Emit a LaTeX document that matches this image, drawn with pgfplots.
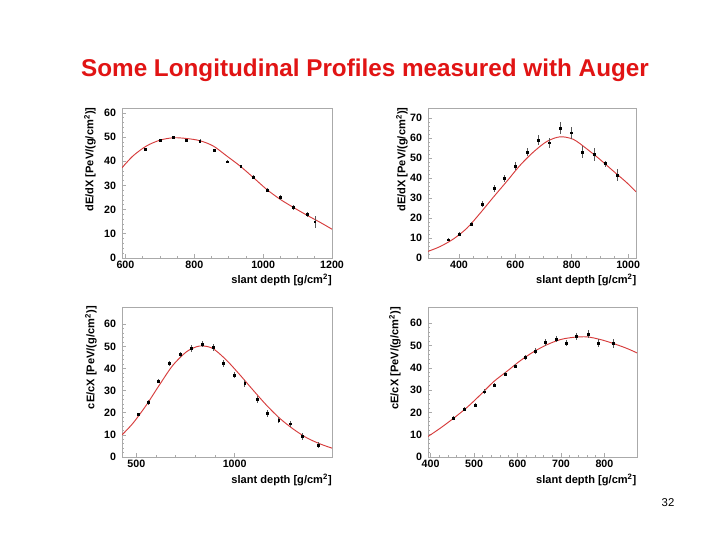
\documentclass[border=0pt]{standalone}
\usepackage{fontspec}
\setmainfont{Liberation Sans}
\usepackage{pgfplots}
\pgfplotsset{compat=1.18}
\definecolor{cTitle}{RGB}{225,20,20}
\definecolor{cFit}{RGB}{215,60,60}
\definecolor{cFrame}{RGB}{170,170,170}
\newcommand{\tickfont}{\bfseries\fontsize{8}{9}\selectfont}
\newcommand{\labfont}{\bfseries\fontsize{8.3}{9}\selectfont}

\pgfplotsset{
  root/.style={
    scale only axis,
    anchor=south west,
    axis line style={cFrame, line width=0.6pt},
    every tick/.style={cFrame, line width=0.5pt},
    tick pos=left, tick align=inside,
    major tick length=3pt, minor tick length=1.6pt,
    tick label style={font=\tickfont},
    xticklabel style={yshift=1pt},
    yticklabel style={xshift=-1pt},
    /pgf/number format/assume math mode=true,
    /pgf/number format/set thousands separator={},
    clip=true,
  },
  pts/.style={black, only marks, mark=square*, mark size=0.7pt,
    error bars/.cd, y dir=both, y explicit,
    error bar style={gray!70!black, line width=0.4pt}, error mark=none},
  fit/.style={cFit, line width=0.7pt, smooth, no marks},
}

\begin{document}
\begin{tikzpicture}
\useasboundingbox (0,0) rectangle (540pt,405pt);
\fill[white] (0,0) rectangle (540pt,405pt);

\node[text=cTitle, font=\bfseries\fontsize{18.2}{20}\selectfont] at (273.75pt,352.5pt)
  {Some Longitudinal Profiles measured with Auger};

% top left
\begin{axis}[root, at={(91.5pt,211.5pt)}, width=157.5pt, height=112.5pt,
  xmin=590, xmax=1200, ymin=0, ymax=62,
  xtick={600,800,1000,1200}, ytick={0,10,...,60},
  minor x tick num=3, minor y tick num=4]
\addplot[fit] coordinates {(590,37.3) (622,42.2) (661,46.3) (700,48.7) (739,49.7) (777,49.4) (816,48.5) (855,46.3) (894,42.2) (933,38.0) (972,33.2) (1010,28.4) (1049,24.3) (1088,20.9) (1127,17.7) (1166,14.7) (1200,11.9)};
\addplot[pts] coordinates {(658,44.9) +- (0,0.6) (700,48.6) +- (0,0.6) (740,49.8) +- (0,0.7) (777,48.7) +- (0,0.6) (816,48.3) +- (0,0.7) (857,44.5) +- (0,0.7) (896,39.8) +- (0,0.7) (935,37.8) +- (0,0.8) (972,33.5) +- (0,0.8) (1012,28.1) +- (0,0.9) (1050,25.0) +- (0,1.0) (1088,20.9) +- (0,1.0) (1127,18.0) +- (0,1.2) (1150,15.0) +- (0,2.5)};
\end{axis}

% top right
\begin{axis}[root, at={(321pt,211.5pt)}, width=156pt, height=112.5pt,
  xmin=290, xmax=1028, ymin=0, ymax=75,
  xtick={400,600,800,1000}, ytick={0,10,...,70},
  minor x tick num=3, minor y tick num=4]
\addplot[fit] coordinates {(290,3.3) (334,5.8) (381,9.6) (428,14.9) (475,22.4) (523,30.6) (570,38.4) (617,46.4) (664,53.0) (712,58.3) (759,60.6) (806,59.3) (853,54.6) (900,49.3) (948,43.4) (995,37.7) (1028,33.1)};
\addplot[pts] coordinates {(363,9.1) +- (0,0.8) (401,11.9) +- (0,1.0) (442,17.0) +- (0,1.2) (484,26.8) +- (0,1.5) (525,34.8) +- (0,1.8) (562,39.7) +- (0,1.8) (599,45.9) +- (0,2.0) (641,53.0) +- (0,2.2) (680,58.8) +- (0,2.5) (720,57.6) +- (0,2.5) (759,64.9) +- (0,3.0) (798,62.6) +- (0,3.0) (838,53.0) +- (0,3.0) (880,51.7) +- (0,3.2) (919,47.2) +- (0,1.5) (962,41.4) +- (0,3.0)};
\end{axis}

% bottom left
\begin{axis}[root, at={(91.5pt,62.25pt)}, width=157.5pt, height=112.5pt,
  xmin=427, xmax=1495, ymin=0, ymax=67.8,
  xtick={500,1000}, ytick={0,10,...,60},
  minor x tick num=4, minor y tick num=4]
\addplot[fit] coordinates {(427,10.0) (483,15.3) (551,23.5) (619,32.8) (686,41.5) (754,47.5) (805,49.8) (839,50.2) (890,49.0) (958,43.8) (1025,37.3) (1093,30.3) (1161,23.5) (1229,17.5) (1297,12.7) (1364,8.8) (1432,6.0) (1495,4.0)};
\addplot[pts] coordinates {(508,19.3) +- (0,0.8) (559,24.7) +- (0,1.0) (613,34.3) +- (0,1.0) (669,42.3) +- (0,1.2) (725,46.3) +- (0,1.2) (780,49.0) +- (0,1.5) (834,51.0) +- (0,1.5) (890,49.5) +- (0,1.5) (941,42.3) +- (0,1.5) (997,37.0) +- (0,1.5) (1051,33.3) +- (0,1.5) (1115,26.1) +- (0,1.5) (1164,19.8) +- (0,1.5) (1224,16.8) +- (0,1.5) (1283,15.0) +- (0,1.5) (1343,9.3) +- (0,1.5) (1424,5.5) +- (0,1.3)};
\end{axis}

% bottom right
\begin{axis}[root, at={(321pt,62.25pt)}, width=156.75pt, height=112.5pt,
  xmin=394, xmax=875, ymin=0, ymax=67.3,
  xtick={400,500,...,800}, ytick={0,10,...,60},
  minor x tick num=4, minor y tick num=4]
\addplot[fit] coordinates {(394,9.2) (422,12.9) (453,17.4) (484,22.3) (514,27.8) (545,33.8) (576,38.5) (607,43.3) (637,47.2) (668,50.4) (699,52.7) (729,53.7) (760,53.9) (791,52.7) (821,50.9) (852,48.7) (875,46.7)};
\addplot[pts] coordinates {(453,17.4) +- (0,0.8) (478,21.6) +- (0,0.9) (503,23.4) +- (0,0.9) (524,29.3) +- (0,1.0) (547,32.3) +- (0,1.0) (572,37.2) +- (0,1.0) (594,40.8) +- (0,1.0) (618,44.6) +- (0,1.2) (641,47.6) +- (0,1.2) (664,51.5) +- (0,1.5) (689,53.0) +- (0,1.5) (712,51.2) +- (0,1.5) (735,54.0) +- (0,1.5) (762,55.1) +- (0,1.8) (785,51.2) +- (0,1.8) (821,50.9) +- (0,2.0)};
\end{axis}

% axis titles (ROOT style: at the end of each axis)
\node[font=\labfont, anchor=north east, inner sep=0pt] at (249pt,199.5pt) {slant depth [g/cm$^{\mathbf{2}}$]};
\node[font=\labfont, anchor=north east, inner sep=0pt] at (477.5pt,199.5pt) {slant depth [g/cm$^{\mathbf{2}}$]};
\node[font=\labfont, anchor=north east, inner sep=0pt] at (249pt,49.5pt) {slant depth [g/cm$^{\mathbf{2}}$]};
\node[font=\labfont, anchor=north east, inner sep=0pt] at (477.5pt,49.5pt) {slant depth [g/cm$^{\mathbf{2}}$]};

\node[font=\labfont, rotate=90, anchor=east, inner sep=0pt] at (67.5pt,324.5pt) {dE/dX [PeV/(g/cm$^{\mathbf{2}}$)]};
\node[font=\labfont, rotate=90, anchor=east, inner sep=0pt] at (301.5pt,324.5pt) {dE/dX [PeV/(g/cm$^{\mathbf{2}}$)]};
\node[font=\labfont, rotate=90, anchor=east, inner sep=0pt] at (68.25pt,175.5pt) {cE/cX [PeV/(g/cm$^{\mathbf{2}}$)]};
\node[font=\labfont, rotate=90, anchor=east, inner sep=0pt] at (296.25pt,175pt) {cE/cX [PeV/(g/cm$^{\mathbf{2}}$)]};

\node[font=\fontsize{8.5}{10}\selectfont] at (501pt,27.75pt) {32};
\end{tikzpicture}
\end{document}
